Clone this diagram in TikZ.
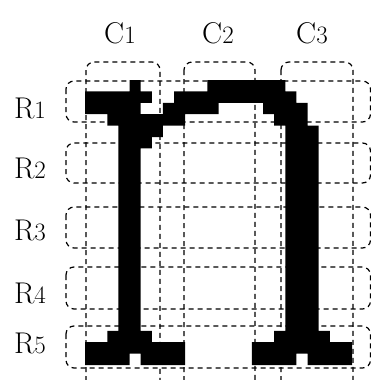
\documentclass[tikz,border=0pt]{standalone}
\usepackage{tikz}
\usetikzlibrary{positioning}

\tikzset{
  cellbox/.style={draw, dash pattern=on 5pt off 4pt, line width=1.2pt, rounded corners=8pt},
  lbl/.style={font=\fontsize{30}{30}\selectfont, anchor=base, inner sep=0pt},
}
\newcommand{\idx}[1]{{\fontsize{25}{25}\selectfont #1}}

\begin{document}
\begin{tikzpicture}[x=1pt, y=-1pt]
    \useasboundingbox (0,0) rectangle (371,380);
    \def\cw{11.13}
    \def\rh{11.4}
    % Column boxes
    \foreach \x/\w in {86/74, 184/71, 281/72} {
        \draw[cellbox] (\x,62) rectangle (\x+\w,400);
    }
    % Row boxes
    \foreach \t/\b in {81/122, 143/183, 207/248, 267/309, 326/368} {
        \draw[cellbox] (66,\t) rectangle (370.5,\b);
    }
    % Bitmap letter (row / first col / last col)
    \fill[black]
        \foreach \r/\a/\b in {0/4/4, 0/11/17, 1/0/5, 1/8/18, 2/0/4, 2/7/11, 2/16/19,
                              3/2/8, 3/17/19, 4/3/6, 4/18/20, 5/3/5, 5/18/20,
                              22/2/5, 22/17/21, 23/0/8, 23/15/23,
                              24/0/3, 24/5/8, 24/15/18, 24/20/23} {
            (85+\a*\cw, 80+\r*\rh) rectangle (85+\b*\cw+\cw, 80+\r*\rh+\rh)
        }
        \foreach \r in {6,...,21} {
            (85+3*\cw, 80+\r*\rh) rectangle (85+5*\cw, 80+\r*\rh+\rh)
            (85+18*\cw, 80+\r*\rh) rectangle (85+21*\cw, 80+\r*\rh+\rh)
        };
    % Labels
    \foreach \i/\x in {1/120, 2/218, 3/312} {
        \node[lbl] (c\i) at (\x,43) {C\idx{\i}};
    }
    \foreach \i/\y in {1/118, 2/178, 3/240, 4/303, 5/353} {
        \node[lbl] (r\i) at (30,\y) {R\idx{\i}};
    }
\end{tikzpicture}
\end{document}
